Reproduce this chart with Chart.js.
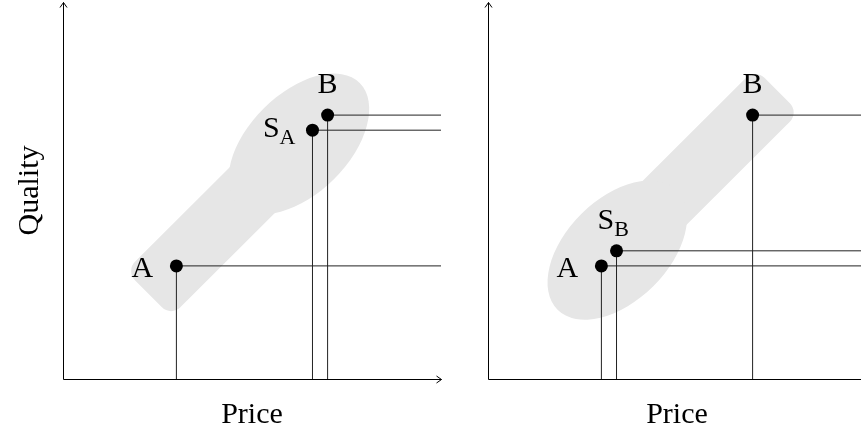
<!DOCTYPE html>
<html>
<head>
<meta charset="utf-8">
<script src="https://cdn.jsdelivr.net/npm/chart.js@4"></script>
<style>
html,body{margin:0;padding:0;background:#fff;overflow:hidden;}
#wrap{position:relative;width:861px;height:435px;overflow:hidden;}
canvas{position:absolute;top:0;}
#probe{position:absolute;left:-999px;top:0;font:30px 'Liberation Serif';}
</style>
</head>
<body>
<div id="probe">Price Quality</div>
<div id="wrap">
<canvas id="left" width="450" height="435" style="left:0"></canvas>
<canvas id="right" width="450" height="435" style="left:425px"></canvas>
</div>
<script>
var xTitle = 'Price';
var yTitle = 'Quality';

// left panel: A, S_A, B
var leftNames = ['A', 'S', 'B'];
var leftSubs = ['', 'A', ''];
var leftPrice = [30, 66, 70];
var leftQuality = [30, 66, 70];

// right panel: A, S_B, B
var rightNames = ['A', 'S', 'B'];
var rightSubs = ['', 'B', ''];
var rightPrice = [30, 34, 70];
var rightQuality = [30, 34, 70];

// grey regions along the diagonal: [from, to, half width], axis units
var leftHead = [46.3, 78.5, 13.2];
var leftTail = [22.6, 56, 8.5];
var rightHead = [18.4, 50, 13.5];
var rightTail = [40, 76.5, 8.2];

var serif = "'Liberation Serif', 'Times New Roman', serif";

function diagGeom(chart, r) {
	var xs = chart.scales.x, ys = chart.scales.y;
	var x0 = xs.getPixelForValue(r[0]), y0 = ys.getPixelForValue(r[0]);
	var x1 = xs.getPixelForValue(r[1]), y1 = ys.getPixelForValue(r[1]);
	return {
		x0: x0, y0: y0,
		len: Math.hypot(x1 - x0, y1 - y0),
		ang: Math.atan2(y1 - y0, x1 - x0),
		h: xs.getPixelForValue(r[2]) - xs.getPixelForValue(0)
	};
}

function drawHead(ctx, chart, r) {
	var g = diagGeom(chart, r);
	ctx.beginPath();
	ctx.ellipse(g.x0 + Math.cos(g.ang) * g.len / 2, g.y0 + Math.sin(g.ang) * g.len / 2,
		g.len / 2, g.h, g.ang, 0, Math.PI * 2);
	ctx.fill();
}

function drawTail(ctx, chart, r) {
	var g = diagGeom(chart, r);
	var rad = 13, w = g.len, h = g.h;
	ctx.save();
	ctx.translate(g.x0, g.y0);
	ctx.rotate(g.ang);
	ctx.beginPath();
	ctx.moveTo(rad, -h);
	ctx.lineTo(w - rad, -h);
	ctx.arcTo(w, -h, w, -h + rad, rad);
	ctx.lineTo(w, h - rad);
	ctx.arcTo(w, h, w - rad, h, rad);
	ctx.lineTo(rad, h);
	ctx.arcTo(0, h, 0, h - rad, rad);
	ctx.lineTo(0, -h + rad);
	ctx.arcTo(0, -h, rad, -h, rad);
	ctx.closePath();
	ctx.fill();
	ctx.restore();
}

var panelPlugin = {
	id: 'panel',
	beforeDatasetsDraw: function(chart, args, opts) {
		var ctx = chart.ctx;
		ctx.save();
		ctx.fillStyle = '#e6e6e6';
		drawTail(ctx, chart, opts.tail);
		drawHead(ctx, chart, opts.head);
		ctx.restore();
	},
	afterDatasetsDraw: function(chart, args, opts) {
		var ctx = chart.ctx, a = chart.chartArea;
		var xs = chart.scales.x, ys = chart.scales.y;
		var ox = Math.round(a.left) + 0.5, oy = Math.round(a.bottom) + 0.5;
		ctx.save();
		// axes with open arrow heads
		ctx.strokeStyle = '#000';
		ctx.lineWidth = 1;
		ctx.beginPath();
		ctx.moveTo(ox, oy); ctx.lineTo(ox, a.top + 0.5);
		ctx.moveTo(ox, oy); ctx.lineTo(a.right + 0.5, oy);
		ctx.stroke();
		ctx.beginPath();
		ctx.moveTo(ox - 3.5, a.top + 5.5); ctx.lineTo(ox, a.top + 0.5); ctx.lineTo(ox + 3.5, a.top + 5.5);
		ctx.moveTo(a.right - 4.5, oy - 3.5); ctx.lineTo(a.right + 0.5, oy); ctx.lineTo(a.right - 4.5, oy + 3.5);
		ctx.stroke();

		// axis titles
		ctx.fillStyle = '#000';
		ctx.font = '30px ' + serif;
		ctx.textAlign = 'center';
		ctx.textBaseline = 'alphabetic';
		ctx.fillText(xTitle, (a.left + a.right) / 2, a.bottom + 44);
		if (opts.yTitle) {
			ctx.save();
			ctx.translate(a.left - 25, (a.top + a.bottom) / 2);
			ctx.rotate(-Math.PI / 2);
			ctx.fillText(opts.yTitle, 0, 0);
			ctx.restore();
		}

		// point labels
		for (var i = 0; i < opts.names.length; i++) {
			var px = xs.getPixelForValue(opts.price[i]);
			var py = ys.getPixelForValue(opts.quality[i]);
			var pl = opts.place[i];
			ctx.font = '30px ' + serif;
			var w1 = ctx.measureText(opts.names[i]).width;
			ctx.font = '22px ' + serif;
			var w2 = opts.subs[i] ? ctx.measureText(opts.subs[i]).width : 0;
			var start = px + pl[0];
			if (pl[2] === 'center') start -= (w1 + w2) / 2;
			if (pl[2] === 'right') start -= (w1 + w2);
			ctx.textAlign = 'left';
			ctx.font = '30px ' + serif;
			ctx.fillText(opts.names[i], start, py + pl[1]);
			if (opts.subs[i]) {
				ctx.font = '22px ' + serif;
				ctx.fillText(opts.subs[i], start + w1, py + pl[1] + 7);
			}
		}
		ctx.restore();
	}
};

function makePanel(id, names, subs, price, quality, head, tail, place, yLabel) {
	var points = [];
	for (var i = 0; i < price.length; i++) points.push({x: price[i], y: quality[i]});
	var datasets = [{
		data: points,
		pointRadius: 6.5,
		pointBackgroundColor: '#000',
		pointBorderWidth: 0,
		showLine: false,
		clip: false
	}];
	for (var j = 0; j < price.length; j++) {
		datasets.push({
			data: [{x: price[j], y: 0}, {x: price[j], y: quality[j]}, {x: 100, y: quality[j]}],
			showLine: true,
			borderColor: '#222',
			borderWidth: 1,
			pointRadius: 0,
			fill: false,
			tension: 0,
			clip: false
		});
	}
	return new Chart(document.getElementById(id), {
		type: 'scatter',
		data: {datasets: datasets},
		options: {
			responsive: false,
			animation: false,
			layout: {autoPadding: false, padding: {left: 63, right: 9, top: 2, bottom: 56}},
			scales: {
				x: {type: 'linear', min: 0, max: 100, display: false},
				y: {type: 'linear', min: 0, max: 100, display: false}
			},
			plugins: {
				legend: {display: false},
				tooltip: {enabled: false},
				panel: {names: names, subs: subs, price: price, quality: quality, head: head, tail: tail, place: place, yTitle: yLabel}
			}
		},
		plugins: [panelPlugin]
	});
}

function build() {
	makePanel('left', leftNames, leftSubs, leftPrice, leftQuality, leftHead, leftTail,
		[[-34, 11, 'center'], [-17, 7, 'right'], [0, -22, 'center']], yTitle);
	makePanel('right', rightNames, rightSubs, rightPrice, rightQuality, rightHead, rightTail,
		[[-34, 11, 'center'], [-19, -22, 'left'], [0, -22, 'center']], '');
}

Promise.all([
	document.fonts.load("30px 'Liberation Serif'"),
	document.fonts.load("22px 'Liberation Serif'")
]).then(build, build);
</script>
</body>
</html>
